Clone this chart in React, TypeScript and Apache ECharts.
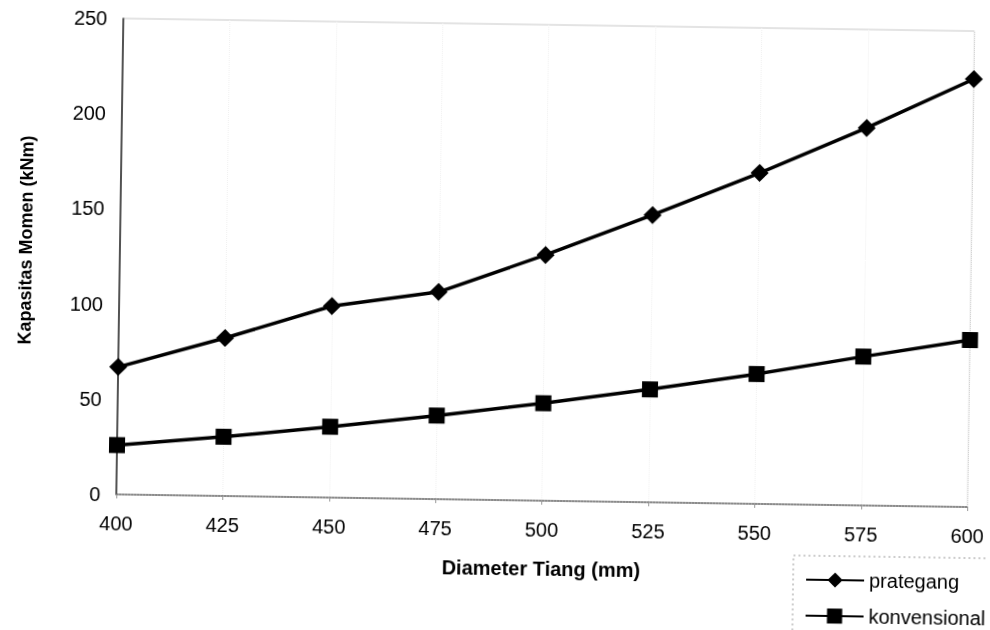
import React, { useEffect, useRef } from "react";
import * as echarts from "echarts";

const categories = ["400", "425", "450", "475", "500", "525", "550", "575", "600"];
const prategang = [66.9, 83.0, 100.6, 108.8, 129.1, 150.9, 173.8, 198.3, 224.8];
const konvensional = [25.9, 31.1, 37.2, 43.9, 51.2, 59.3, 68.2, 78.2, 87.7];
const yTicks = { min: 0, max: 250, interval: 50 };

const FONT = "'Liberation Sans', Arial, sans-serif";

export default function App() {
  const ref = useRef<HTMLDivElement>(null);
  useEffect(() => {
    if (!ref.current) return;
    const chart = echarts.init(ref.current, null, { renderer: "svg" });
    chart.setOption({
      animation: false,
      backgroundColor: "#ffffff",
      textStyle: { fontFamily: FONT, color: "#000" },
      grid: {
        left: 119,
        top: 24,
        right: 19,
        bottom: 130,
        show: true,
        borderColor: "#c8c8c8",
        borderWidth: 1,
      },
      legend: {
        orient: "vertical",
        left: 804,
        top: 560,
        itemWidth: 58,
        itemHeight: 19,
        itemGap: 16,
        textStyle: { fontFamily: FONT, fontSize: 20, color: "#000", lineHeight: 20 },
        data: ["prategang", "konvensional"],
      },
      graphic: [
        {
          type: "rect",
          shape: { x: 797, y: 551, width: 400, height: 200 },
          style: { fill: "none", stroke: "#9a9a9a", lineWidth: 1, lineDash: [2, 3] },
          silent: true,
          z: -1,
        },
      ],
      xAxis: {
        type: "category",
        data: categories,
        boundaryGap: false,
        name: "Diameter Tiang (mm)",
        nameLocation: "middle",
        nameGap: 58,
        nameTextStyle: { fontFamily: FONT, fontSize: 20, fontWeight: "bold", color: "#000" },
        axisLine: { lineStyle: { color: "#666", width: 1.5, type: "dotted" } },
        axisTick: { show: true, length: 4, lineStyle: { color: "#999" } },
        axisLabel: { fontFamily: FONT, fontSize: 20, color: "#000", margin: 19 },
        splitLine: { show: true, lineStyle: { color: "#f0f0f0", type: "dotted" } },
      },
      yAxis: {
        type: "value",
        min: yTicks.min,
        max: yTicks.max,
        interval: yTicks.interval,
        name: "Kapasitas Momen (kNm)",
        nameLocation: "middle",
        nameGap: 85,
        nameRotate: 90,
        nameTextStyle: {
          fontFamily: FONT,
          fontSize: 18,
          fontWeight: "bold",
          color: "#000",
          padding: [0, 0, 0, 30],
        },
        axisLine: { show: true, lineStyle: { color: "#222", width: 1.5 } },
        axisTick: { show: false },
        axisLabel: { fontFamily: FONT, fontSize: 20, color: "#000", margin: 16 },
        splitLine: { show: false },
      },
      series: [
        {
          name: "prategang",
          type: "line",
          data: prategang,
          symbol: "diamond",
          symbolSize: 18,
          lineStyle: { color: "#000", width: 3.5 },
          itemStyle: { color: "#000" },
          z: 3,
        },
        {
          name: "konvensional",
          type: "line",
          data: konvensional,
          symbol: "rect",
          symbolSize: 16,
          lineStyle: { color: "#000", width: 3.5 },
          itemStyle: { color: "#000" },
          z: 3,
        },
      ],
    });
    return () => chart.dispose();
  }, []);
  return (
    <div
      ref={ref}
      style={{
        position: "fixed",
        left: 0,
        top: 0,
        width: 990,
        height: 630,
        transform: "rotate(0.85deg)",
        transformOrigin: "495px 315px",
      }}
    />
  );
}
